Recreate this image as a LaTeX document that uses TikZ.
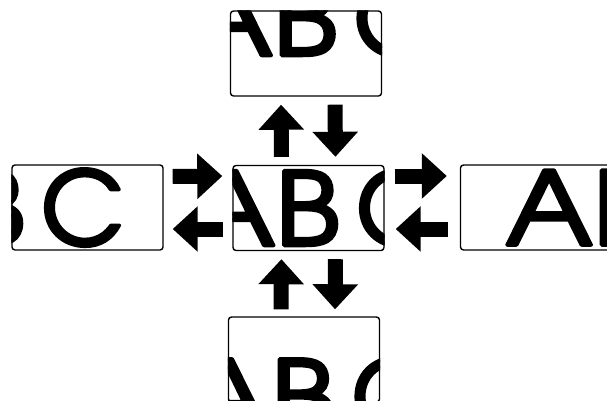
\documentclass[tikz,border=0pt]{standalone}
\usepackage[T1]{fontenc}
\usetikzlibrary{arrows.meta}
\newcommand\abcword{\special{pdf:literal direct 2 Tr 3.5 w 1 j}\scalebox{1.15}[1]{A}\kern0.9pt\scalebox{1.1}[1]{B}\kern16.5pt C\special{pdf:literal direct 0 Tr}}
\begin{document}
\begin{tikzpicture}[x=1pt,y=-1pt,
  win/.style={draw=black,line width=1.4pt,rounded corners=3pt,minimum width=151pt,minimum height=85pt,inner sep=0pt},
  big/.style={inner sep=0pt,anchor=base west,font=\fontencoding{T1}\fontfamily{pag}\fontseries{m}\fontsize{101.4}{101.4}\selectfont},
  blk/.style={line width=15pt,-{Triangle[width=44pt,length=25pt]}}]
\useasboundingbox (0,0) rectangle (607,400);
\node[win] (c) at (308.5,208) {};
\node[win] (t) at (306,53.5) {};
\node[win] (b) at (304,359.5) {};
\node[win] (l) at (87.5,207.5) {};
\node[win] (r) at (536,207.5) {};
\foreach \n/\dx/\dy in {c/0/0,t/0/-35.5,b/0/36.75,l/-94/0,r/90/0}{
  \begin{scope}
    \clip[rounded corners=3pt] (\n.south west) rectangle (\n.north east);
    \node[big] (txt\n) at ([shift={(-120.2+\dx,37.5+\dy)}]\n.center) {\abcword};
  \end{scope}
}
\draw[blk,shorten <=8pt,shorten >=8pt] ([xshift=-27pt]c.north) -- ([xshift=-25pt]t.south);
\draw[blk,shorten <=8pt,shorten >=8pt] ([xshift=29pt]t.south) -- ([xshift=27pt]c.north);
\draw[blk,shorten <=7pt,shorten >=8pt] ([xshift=-23pt]b.north) -- ([xshift=-27pt]c.south);
\draw[blk,shorten <=8pt,shorten >=7pt] ([xshift=27pt]c.south) -- ([xshift=31pt]b.north);
\draw[blk,shorten <=9pt,shorten >=10pt] ([yshift=31pt]l.east) -- ([yshift=32pt]c.west);
\draw[blk,shorten <=9pt,shorten >=9pt] ([yshift=-21pt]c.west) -- ([yshift=-21.5pt]l.east);
\draw[blk,shorten <=10pt,shorten >=13pt] ([yshift=32pt]c.east) -- ([yshift=31.5pt]r.west);
\draw[blk,shorten <=12pt,shorten >=11pt] ([yshift=-21.5pt]r.west) -- ([yshift=-21pt]c.east);
\end{tikzpicture}
\end{document}
